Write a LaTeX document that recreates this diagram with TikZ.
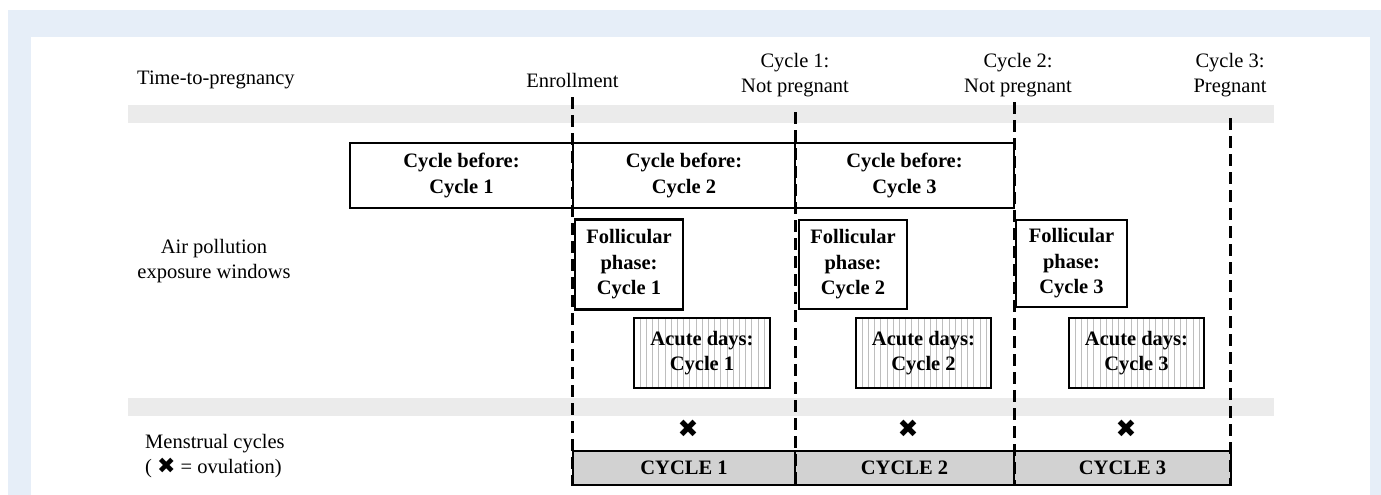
\documentclass[tikz,border=0pt]{standalone}
\usepackage{fontspec}
\setmainfont{Liberation Serif}
\newfontfamily\symfont{DejaVu Sans}
\definecolor{bgblue}{RGB}{230,238,248}
\definecolor{bandgray}{RGB}{235,235,235}
\definecolor{bargray}{RGB}{210,210,210}
\definecolor{hatchgray}{RGB}{190,190,190}
\begin{document}
\begin{tikzpicture}[x=1pt,y=-1pt,
  txt/.style={font=\fontsize{20.5}{25}\selectfont, inner sep=0pt, align=center},
  box/.style={draw=black, line width=2.6pt, fill=white, inner sep=0pt, align=center,
    font=\bfseries\fontsize{20.5}{25.5}\selectfont},
  acute/.style={box, path picture={
      \foreach \k in {1,...,22}{
        \draw[hatchgray, line width=0.7pt]
          ([xshift=\k*6.2pt]path picture bounding box.north west) --
          ([xshift=\k*6.2pt]path picture bounding box.south west);}}},
  cyc/.style={box, fill=bargray, minimum height=34pt},
  vline/.style={line width=3pt, dash pattern=on 12pt off 6pt},
  band/.style={fill=bandgray, draw=none},
  ovu/.style={font=\symfont\fontsize{25}{25}\selectfont, inner sep=0pt}]
\useasboundingbox (0,0) rectangle (1381,495);
% background
\fill[bgblue] (8,10) rectangle (1381,495);
\fill[white] (31,37) rectangle (1370,495);
% gray bands
\fill[band] (128,105) rectangle (1274,123);
\fill[band] (128,398) rectangle (1274,416);
% row labels
\node[txt, anchor=west] (ttp) at (137,80) {Time-to-pregnancy};
\node[txt] (apw) at (214,261) {Air pollution\\exposure windows};
\node[txt, anchor=west, align=left] (mc) at (145,456) {Menstrual cycles\\( {\symfont\fontsize{22}{22}\selectfont ✖} = ovulation)};
% time labels
\node[txt] (enr) at (572.5,80) {Enrollment};
\node[txt] (c1np) at (795,75) {Cycle 1:\\Not pregnant};
\node[txt] (c2np) at (1018,75) {Cycle 2:\\Not pregnant};
\node[txt] (c3p) at (1230,75) {Cycle 3:\\Pregnant};
% cycle-before boxes
\node[box, minimum width=223pt, minimum height=65pt] (cb1) at (461.5,175.5) {Cycle before:\\Cycle 1};
\node[box, minimum width=222pt, minimum height=65pt] (cb2) at (684,175.5) {Cycle before:\\Cycle 2};
\node[box, minimum width=219pt, minimum height=65pt] (cb3) at (904.5,175.5) {Cycle before:\\Cycle 3};
% follicular boxes
\node[box, minimum width=108pt, minimum height=90pt] (fp1) at (629,264.5) {Follicular\\phase:\\Cycle 1};
\node[box, minimum width=108pt, minimum height=89pt] (fp2) at (853,264.5) {Follicular\\phase:\\Cycle 2};
\node[box, minimum width=111pt, minimum height=87pt] (fp3) at (1071.5,263.5) {Follicular\\phase:\\Cycle 3};
% acute boxes
\node[acute, minimum width=136pt, minimum height=70pt] (ad1) at (702,353) {Acute days:\\Cycle 1};
\node[acute, minimum width=135pt, minimum height=70pt] (ad2) at (923.5,353) {Acute days:\\Cycle 2};
\node[acute, minimum width=135pt, minimum height=70pt] (ad3) at (1136.5,353) {Acute days:\\Cycle 3};
% ovulation marks
\node[ovu] (ov1) at (688,429) {✖};
\node[ovu] (ov2) at (908,429) {✖};
\node[ovu] (ov3) at (1126,429) {✖};
% menstrual cycle bar
\node[cyc, minimum width=222pt] (cy1) at (684,468) {CYCLE 1};
\node[cyc, minimum width=219pt] (cy2) at (904.5,468) {CYCLE 2};
\node[cyc, minimum width=217pt] (cy3) at (1122.5,468) {CYCLE 3};
% dashed time markers
\coordinate (t0) at (572.5,97);
\coordinate (t1) at (795,112);
\coordinate (t2) at (1014,102);
\coordinate (t3) at (1230,118);
\draw[vline] (t0) -- (t0 |- cy1.south);
\draw[vline] (t1) -- (t1 |- cy1.south);
\draw[vline] (t2) -- (t2 |- cy2.south);
\draw[vline] (t3) -- (t3 |- cy3.south);
\end{tikzpicture}
\end{document}
